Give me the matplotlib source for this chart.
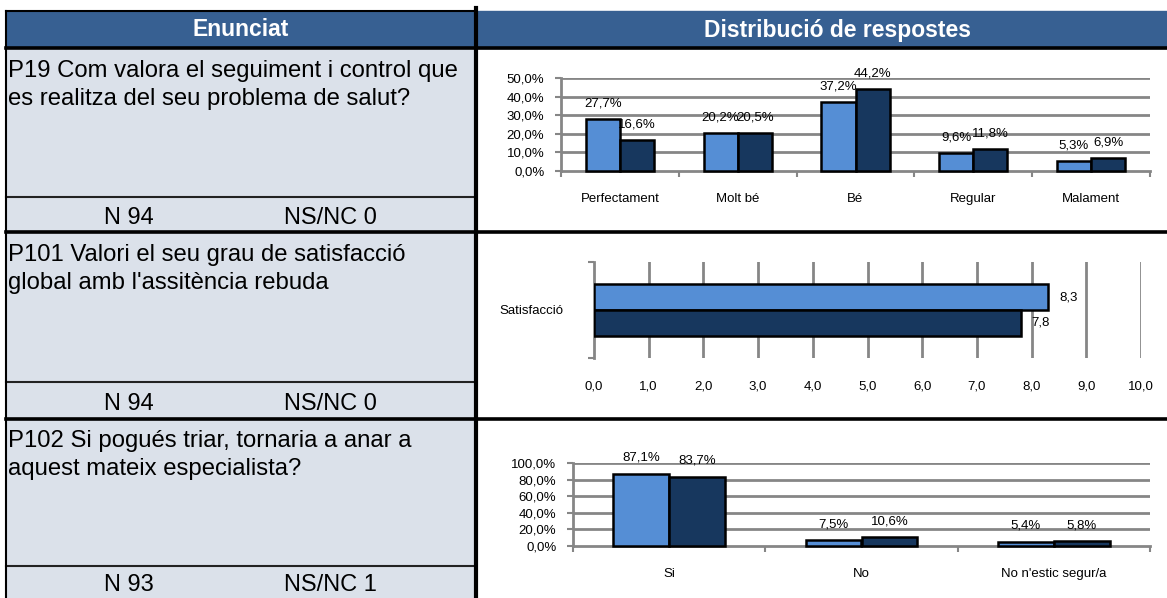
import matplotlib
matplotlib.use('Agg')
import matplotlib.pyplot as plt
import numpy as np
from matplotlib.patches import Rectangle

plt.rcParams['font.family'] = ['Liberation Sans', 'DejaVu Sans']

# dades
headers = ['Enunciat', 'Distribució de respostes']
questions = [["P19 Com valora el seguiment i control que", "es realitza del seu problema de salut?"],
             ["P101 Valori el seu grau de satisfacció", "global amb l'assitència rebuda"],
             ["P102 Si pogués triar, tornaria a anar a", "aquest mateix especialista?"]]
n_vals = [94, 94, 93]
nsnc_vals = [0, 0, 1]

p19_cats = ['Perfectament', 'Molt bé', 'Bé', 'Regular', 'Malament']
p19_a = [27.7, 20.2, 37.2, 9.6, 5.3]
p19_b = [16.6, 20.5, 44.2, 11.8, 6.9]

p101_cat = ['Satisfacció']
p101_a = [8.3]
p101_b = [7.8]

p102_cats = ['Si', 'No', "No n'estic segur/a"]
p102_a = [87.1, 7.5, 5.4]
p102_b = [83.7, 10.6, 5.8]

LIGHT = '#558ED5'
DARK = '#17375E'
GRID = '#868686'
HEAD = '#376092'
CELL = '#DBE1EA'

W, H = 1167, 598
fig = plt.figure(figsize=(W / 100, H / 100), dpi=100)

bg = fig.add_axes([0, 0, 1, 1])
bg.set_xlim(0, W)
bg.set_ylim(H, 0)
bg.axis('off')


def px_axes(left, top, right, bottom):
    ax = fig.add_axes([left / W, 1 - bottom / H, (right - left) / W, (bottom - top) / H])
    ax.set_facecolor('none')
    return ax


# taula de l'esquerra
bg.add_patch(Rectangle((6, 11), W - 6, 37, color=HEAD, zorder=1))
bg.add_patch(Rectangle((6, 48), 468, H - 48, color=CELL, zorder=1))
bg.text(241, 30, headers[0], color='white', fontsize=16.5, fontweight='bold', ha='center', va='center')
bg.text(838, 30, headers[1], color='white', fontsize=16.5, fontweight='bold', ha='center', va='center')

row_tops = [48, 232, 419]
n_tops = [197, 382, 566]
n_bots = [232, 419, 598]
for q, t, nt, nb, n, ns in zip(questions, row_tops, n_tops, n_bots, n_vals, nsnc_vals):
    for i, line in enumerate(q):
        bg.text(8, t + 20 + 28 * i, line, fontsize=17.2, va='center_baseline', ha='left')
    bg.plot([6, 474], [nt, nt], color='#222222', lw=1.5, zorder=3)
    yc = (nt + nb) / 2 + 3
    bg.text(129, yc, f'N {n}', fontsize=17, ha='center', va='center')
    bg.text(330, yc, f'NS/NC {ns}', fontsize=17, ha='center', va='center')

for y in [48, 232, 419]:
    bg.plot([6, W], [y, y], color='black', lw=2.6, zorder=4)
bg.plot([6, 476], [11, 11], color='black', lw=1.5, zorder=4)
bg.plot([6, 6], [11, H], color='black', lw=1.5, zorder=4)
bg.plot([476, 476], [8, H], color='black', lw=3, zorder=4)

FS = 9.5


def style_vertical(ax, cats, ymax, step):
    n = len(cats)
    ax.set_xlim(-0.5, n - 0.5)
    ax.set_ylim(0, ymax)
    ticks = np.arange(0, ymax + step / 2, step)
    ax.set_yticks(ticks)
    ax.set_yticklabels([f'{t:.1f}%'.replace('.', ',') for t in ticks], fontsize=FS)
    for t in ticks[1:]:
        ax.axhline(t, color=GRID, lw=2, zorder=0)
    ax.set_xticks(np.arange(-0.5, n, 1))
    ax.set_xticklabels([])
    ax.set_xticks(np.arange(n), minor=True)
    ax.set_xticklabels(cats, minor=True, fontsize=FS)
    ax.tick_params(axis='x', which='major', direction='out', length=4, width=1.5, color=GRID)
    ax.tick_params(axis='x', which='minor', length=0, pad=16)
    ax.tick_params(axis='y', direction='out', length=4, width=1.5, color=GRID, pad=8)
    for s in ['top', 'right']:
        ax.spines[s].set_visible(False)
    for s in ['left', 'bottom']:
        ax.spines[s].set_color(GRID)
        ax.spines[s].set_linewidth(2)


def draw_pairs(ax, a, b, w):
    x = np.arange(len(a))
    ba = ax.bar(x - w / 2, a, w, color=LIGHT, edgecolor='black', lw=1.8, zorder=3, clip_on=False)
    bb = ax.bar(x + w / 2, b, w, color=DARK, edgecolor='black', lw=1.8, zorder=3, clip_on=False)
    for bars in (ba, bb):
        for r in bars:
            ax.annotate(f'{r.get_height():.1f}%'.replace('.', ','),
                        (r.get_x() + r.get_width() / 2, r.get_height()),
                        xytext=(0, 7), textcoords='offset points',
                        ha='center', va='bottom', fontsize=FS, annotation_clip=False)


# P19
ax1 = px_axes(561, 78, 1150, 171)
style_vertical(ax1, p19_cats, 50, 10)
draw_pairs(ax1, p19_a, p19_b, 0.29)

# P101
ax2 = px_axes(594, 262, 1141, 358)
ax2.set_xlim(0, 10)
ax2.set_ylim(-0.5, 0.5)
h = 0.27
ax2.barh([h / 2], p101_a, h, color=LIGHT, edgecolor='black', lw=1.8, zorder=3)
ax2.barh([-h / 2], p101_b, h, color=DARK, edgecolor='black', lw=1.8, zorder=3)
for yy, v in zip([h / 2, -h / 2], [p101_a[0], p101_b[0]]):
    ax2.annotate(f'{v:.1f}'.replace('.', ','), (v, yy), xytext=(8, 0), textcoords='offset points',
                 ha='left', va='center', fontsize=FS)
xt = np.arange(0, 11, 1)
for t in xt[1:]:
    ax2.axvline(t, color=GRID, lw=2, zorder=0)
ax2.set_xticks(xt)
ax2.set_xticklabels([f'{t:.1f}'.replace('.', ',') for t in xt], fontsize=FS)
ax2.tick_params(axis='x', length=0, pad=16)
ax2.set_yticks([-0.5, 0.5])
ax2.set_yticklabels([])
ax2.set_yticks([0], minor=True)
ax2.set_yticklabels(p101_cat, minor=True, fontsize=FS)
ax2.tick_params(axis='y', which='major', direction='out', length=4, width=1.5, color=GRID)
ax2.tick_params(axis='y', which='minor', length=0, pad=22)
for s in ['top', 'right', 'bottom']:
    ax2.spines[s].set_visible(False)
ax2.spines['left'].set_color(GRID)
ax2.spines['left'].set_linewidth(2)

# P102
ax3 = px_axes(573, 463, 1150, 546)
style_vertical(ax3, p102_cats, 100, 20)
draw_pairs(ax3, p102_a, p102_b, 0.29)

fig.savefig('out.png', dpi=100)
